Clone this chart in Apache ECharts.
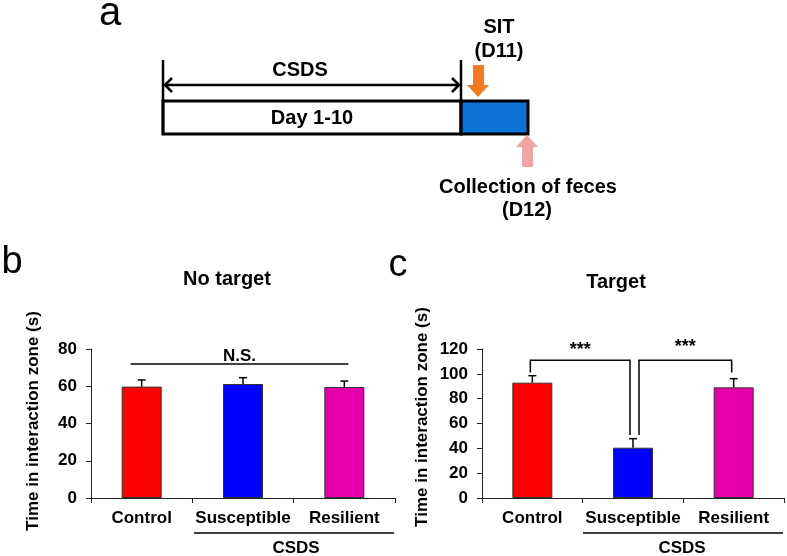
<!DOCTYPE html>
<html><head><meta charset="utf-8">
<script src="https://cdn.jsdelivr.net/npm/echarts@6/dist/echarts.min.js"></script>
<style>html,body{margin:0;padding:0;background:#fff}#c{width:787px;height:556px}</style>
</head><body><div id="c"></div>
<script>
// ---- data ----
const categories = ['Control', 'Susceptible', 'Resilient'];
const groupLabel = 'CSDS';
const yAxisTitle = 'Time in interaction zone (s)';
const panelTitles = ['No target', 'Target'];
const noTargetMeans = [59.8, 61.2, 59.6];
const noTargetErrors = [3.6, 3.4, 3.2];
const targetMeans = [92.9, 40.5, 89.1];
const targetErrors = [5.6, 7.3, 7.0];
const barColors = ['#FF0000', '#0000FF', '#E600AC'];
const noTargetAxis = { min: 0, max: 80, interval: 20 };
const targetAxis = { min: 0, max: 120, interval: 20 };
// N.S. bracket: from category, to category, height
const nsBracket = [[0, 2, 72]];
const nsText = 'N.S.';
// significance brackets: from cat, to cat, top, left leg bottom, right leg bottom
const sigBrackets = [[0, 1, 111, 101, 50.7], [1, 2, 111, 50.7, 101]];
const sigTexts = ['***', '***'];

// ---- styling ----
const FF = '"Liberation Sans", Arial, sans-serif';
const bold = s => 'bold ' + s + 'px ' + FF;
const AX = '#222';

function txt(x, y, text, size, opts) {
  opts = opts || {};
  return {
    type: 'text', x: x, y: y, rotation: opts.rotation || 0, z: 10,
    style: {
      text: text, font: opts.font || bold(size), fill: '#000',
      align: opts.align || 'center', textAlign: opts.align || 'center',
      verticalAlign: 'middle', textVerticalAlign: 'middle'
    }
  };
}
function seg(x1, y1, x2, y2, w) {
  return { type: 'line', z: 10, shape: { x1, y1, x2, y2 }, style: { stroke: '#000', lineWidth: w || 1.5 } };
}

const graphics = [
  // panel letters
  txt(110, 14, 'a', 0, { font: '40px ' + FF }),
  txt(12, 263, 'b', 0, { font: '38px ' + FF }),
  txt(398, 266, 'c', 0, { font: '38px ' + FF }),
  // timeline (panel a)
  { type: 'rect', z: 5, shape: { x: 163, y: 101, width: 298, height: 33 }, style: { fill: '#fff', stroke: '#000', lineWidth: 3 } },
  { type: 'rect', z: 5, shape: { x: 461, y: 101, width: 67, height: 33 }, style: { fill: '#0B72D6', stroke: '#000', lineWidth: 3 } },
  seg(163, 60, 163, 134, 2.5),
  seg(461, 60, 461, 134, 2.5),
  seg(165, 85, 459, 85, 2.5),
  { type: 'polyline', z: 10, shape: { points: [[172, 78], [165, 85], [172, 92]] }, style: { stroke: '#000', lineWidth: 2.5, fill: null } },
  { type: 'polyline', z: 10, shape: { points: [[452, 78], [459, 85], [452, 92]] }, style: { stroke: '#000', lineWidth: 2.5, fill: null } },
  { type: 'polygon', z: 10, shape: { points: [[473, 65], [484, 65], [484, 85], [489, 85], [478, 97], [467, 85], [473, 85]] }, style: { fill: '#F47920' } },
  { type: 'polygon', z: 10, shape: { points: [[527, 135], [538, 147], [533, 147], [533, 167], [522, 167], [522, 147], [516, 147]] }, style: { fill: '#F0A5A5' } },
  txt(300, 70, 'CSDS', 20),
  txt(312, 118, 'Day 1-10', 20),
  txt(499, 27, 'SIT', 20),
  txt(499, 51, '(D11)', 20),
  txt(528, 187, 'Collection of feces', 20),
  txt(527, 210, '(D12)', 20),
  // panel titles
  txt(227, 279, panelTitles[0], 20),
  txt(616, 282, panelTitles[1], 20),
  // y-axis titles
  txt(33, 421, yAxisTitle, 17, { rotation: Math.PI / 2 }),
  txt(422, 417, yAxisTitle, 17, { rotation: Math.PI / 2 }),
  // group underline + label
  seg(194, 533, 394, 533, 1.5),
  txt(296, 548, groupLabel, 17),
  seg(583, 533, 783, 533, 1.5),
  txt(682, 548, groupLabel, 17)
];

function xAxisCfg(gi) {
  return {
    type: 'category', gridIndex: gi, data: categories,
    axisLine: { lineStyle: { color: AX, width: 1 } },
    axisTick: { show: true, length: 5, alignWithLabel: false, interval: 0, lineStyle: { color: AX } },
    axisLabel: { interval: 0, margin: 12, color: '#000', fontSize: 17, fontWeight: 'bold', fontFamily: FF },
    splitLine: { show: false }
  };
}
function yAxisCfg(gi, ax) {
  return {
    type: 'value', gridIndex: gi, min: ax.min, max: ax.max, interval: ax.interval,
    axisLine: { show: true, lineStyle: { color: AX, width: 1 } },
    axisTick: { show: true, length: 5, lineStyle: { color: AX } },
    axisLabel: { margin: 14, color: '#000', fontSize: 17, fontWeight: 'bold', fontFamily: FF },
    splitLine: { show: false }
  };
}
function barSeries(gi, means) {
  return {
    type: 'bar', xAxisIndex: gi, yAxisIndex: gi, barWidth: 40,
    data: means.map((v, i) => ({ value: v, itemStyle: { color: barColors[i] } })),
    itemStyle: { borderColor: '#333', borderWidth: 1 }
  };
}
function errSeries(gi, means, errs) {
  return {
    type: 'custom', xAxisIndex: gi, yAxisIndex: gi, clip: false, z: 5,
    data: means.map((v, i) => [i, v, errs[i]]),
    renderItem: function (params, api) {
      const base = api.coord([api.value(0), api.value(1)]);
      const top = api.coord([api.value(0), api.value(1) + api.value(2)]);
      return {
        type: 'group', children: [
          seg(base[0], base[1], top[0], top[1], 1.5),
          seg(top[0] - 4, top[1], top[0] + 4, top[1], 1.5)
        ]
      };
    }
  };
}

const option = {
  animation: false,
  backgroundColor: '#fff',
  grid: [
    { left: 91, top: 349, width: 304, height: 149 },
    { left: 482, top: 349, width: 302, height: 149 }
  ],
  xAxis: [xAxisCfg(0), xAxisCfg(1)],
  yAxis: [yAxisCfg(0, noTargetAxis), yAxisCfg(1, targetAxis)],
  series: [
    barSeries(0, noTargetMeans),
    errSeries(0, noTargetMeans, noTargetErrors),
    barSeries(1, targetMeans),
    errSeries(1, targetMeans, targetErrors),
    {
      type: 'custom', xAxisIndex: 0, yAxisIndex: 0, clip: false, z: 6,
      data: nsBracket,
      renderItem: function (params, api) {
        const a = api.coord([api.value(0), api.value(2)]);
        const b = api.coord([api.value(1), api.value(2)]);
        const x1 = a[0] - 11, x2 = b[0] + 4;
        return {
          type: 'group', children: [
            seg(x1, a[1], x2, a[1], 1.5),
            txt((x1 + x2) / 2, a[1] - 8, nsText, 17)
          ]
        };
      }
    },
    {
      type: 'custom', xAxisIndex: 1, yAxisIndex: 1, clip: false, z: 6,
      data: sigBrackets,
      renderItem: function (params, api) {
        const i = params.dataIndex;
        const offL = i === 0 ? -2 : 6;
        const offR = i === 0 ? -3 : -2;
        const t1 = api.coord([api.value(0), api.value(2)]);
        const t2 = api.coord([api.value(1), api.value(2)]);
        const b1 = api.coord([api.value(0), api.value(3)]);
        const b2 = api.coord([api.value(1), api.value(4)]);
        const xl = t1[0] + offL, xr = t2[0] + offR;
        return {
          type: 'group', children: [
            { type: 'polyline', shape: { points: [[xl, b1[1]], [xl, t1[1]], [xr, t1[1]], [xr, b2[1]]] }, style: { stroke: '#000', lineWidth: 1.5, fill: null } },
            txt((xl + xr) / 2, t1[1] - (i === 0 ? 10 : 13), sigTexts[i], 18)
          ]
        };
      }
    }
  ],
  graphic: graphics
};
const chart = echarts.init(document.getElementById('c'), null, { renderer: 'canvas' });
chart.setOption(option);
</script>
</body></html>
